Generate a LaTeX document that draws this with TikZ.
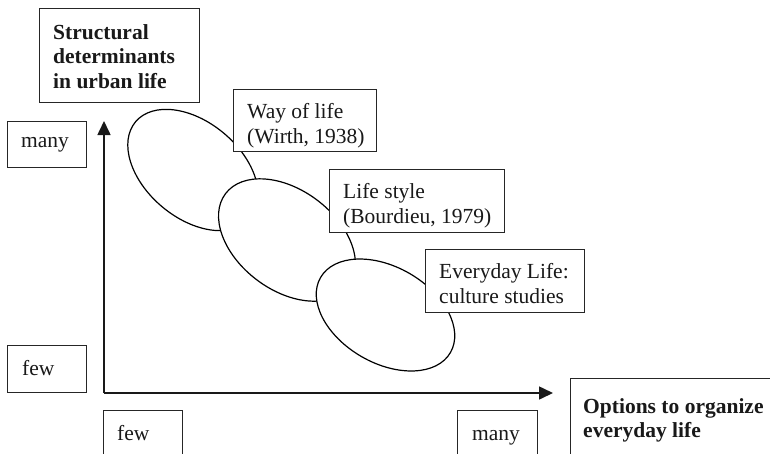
\documentclass[tikz,border=0pt]{standalone}
\usepackage{fontspec}
\setmainfont{Liberation Serif}
\usetikzlibrary{arrows.meta,shapes.geometric}

\tikzset{
  frame/.style={draw=black!85, line width=1.2pt, fill=white, inner sep=0pt, anchor=north west},
  label/.style={inner sep=0pt, align=left, text=black!90, font=\fontsize{21.5}{24.5}\selectfont},
  boldlabel/.style={label, font=\fontsize{21.5}{24.5}\selectfont\bfseries},
  oval/.style={ellipse, draw=black, line width=1.2pt, fill=white, inner sep=0pt,
               minimum width=150pt, minimum height=96pt},
  axis/.style={draw=black!90, line width=1.6pt, -{Triangle[length=14pt,width=13pt]}}
}

\begin{document}
\begin{tikzpicture}[x=1pt, y=-1pt]
  \useasboundingbox (0,0) rectangle (770,453);
  \clip (0,0) rectangle (770,453);

  % axis titles
  \node[frame, minimum width=160pt, minimum height=94pt] (ytitleBox) at (39,8) {};
  \node[boldlabel, anchor=north west] (ytitle) at (53,24) {Structural\\determinants\\in urban life};

  \node[frame, minimum width=220pt, minimum height=100pt] (xtitleBox) at (570,378) {};
  \node[boldlabel, anchor=north west] (xtitle) at (583,398) {Options to organize\\everyday life};

  % scale labels on the vertical axis
  \node[frame, minimum width=79pt, minimum height=46pt] (ymanyBox) at (7,121) {};
  \node[label, anchor=base west] (ymany) at (21,147) {many};
  \node[frame, minimum width=79pt, minimum height=47pt] (yfewBox) at (7,345) {};
  \node[label, anchor=base west] (yfew) at (22,375) {few};

  % scale labels on the horizontal axis
  \node[frame, minimum width=79pt, minimum height=70pt] (xfewBox) at (103,410) {};
  \node[label, anchor=base west] (xfew) at (117,440) {few};
  \node[frame, minimum width=80pt, minimum height=70pt] (xmanyBox) at (457,410) {};
  \node[label, anchor=base west] (xmany) at (472,440) {many};

  % axes
  \coordinate (origin) at (104,393);
  \coordinate (ytip) at (104,121);
  \coordinate (xtip) at (553,393);
  \draw[axis] (origin) -- (ytip);
  \draw[axis] (origin) -- (xtip);

  % overlapping concepts, each with its caption box
  \node[oval, rotate=-40] (wirth) at (193,170) {};
  \node[frame, minimum width=143pt, minimum height=62pt] (wirthBox) at (233,89) {};
  \node[label, anchor=north west] (wirthText) at (247,103.5) {Way of life\\(Wirth, 1938)};

  \node[oval, rotate=-37, minimum width=154pt, minimum height=100pt] (bourdieu) at (287,240) {};
  \node[frame, minimum width=175pt, minimum height=63pt] (bourdieuBox) at (329,169) {};
  \node[label, anchor=north west] (bourdieuText) at (343,183.5) {Life style\\(Bourdieu, 1979)};

  \node[oval, rotate=-30] (everyday) at (385.5,315) {};
  \node[frame, minimum width=159pt, minimum height=63pt] (everydayBox) at (425,249) {};
  \node[label, anchor=north west] (everydayText) at (439,263.5) {Everyday Life:\\culture studies};
\end{tikzpicture}
\end{document}
